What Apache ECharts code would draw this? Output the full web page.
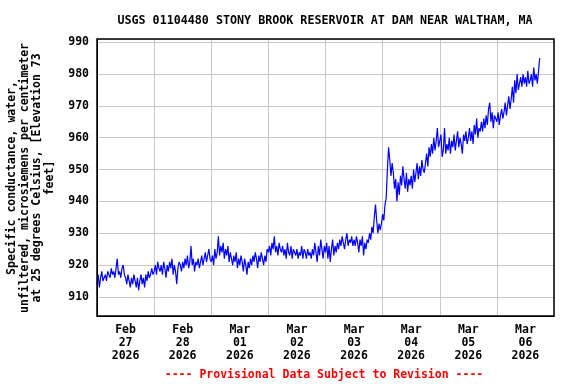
<!DOCTYPE html>
<html>
<head>
<meta charset="utf-8">
<script src="https://cdn.jsdelivr.net/npm/echarts@6/dist/echarts.min.js"></script>
<style>html,body{margin:0;padding:0;background:#fff}#c{width:576px;height:384px}</style>
</head>
<body>
<div id="c"></div>
<script>
// Day labels (category axis, one band per day)
var dayLabels = ['Feb\n27\n2026','Feb\n28\n2026','Mar\n01\n2026','Mar\n02\n2026','Mar\n03\n2026','Mar\n04\n2026','Mar\n05\n2026','Mar\n06\n2026'];
var yTicks = [910, 920, 930, 940, 950, 960, 970, 980, 990];
var stepsPerDay = 48; // 30-minute readings

// Specific conductance readings, 30-minute steps, per day (uS/cm)
var feb27 = [914,917,913,916,918,915,916,917,915,918,917,916,
             919,917,918,916,919,922,917,918,916,919,920,917,
             916,914,917,915,913,916,914,917,915,913,916,912,
             915,917,914,916,913,917,915,918,916,917,919,917];
var feb28 = [918,920,917,921,919,918,920,917,921,919,916,920,
             918,921,919,922,917,920,918,914,919,921,920,918,
             921,919,922,920,923,919,921,926,920,922,918,921,
             920,922,919,921,923,920,922,924,921,923,925,922];
var mar01 = [921,923,920,925,922,924,929,923,926,924,927,922,
             925,923,926,921,924,922,920,923,921,924,919,922,
             920,923,921,918,922,920,917,921,919,922,920,923,
             921,924,922,919,923,921,924,922,920,923,921,925];
var mar02 = [924,926,923,927,925,929,924,926,923,927,925,924,
             926,923,925,922,927,924,923,926,922,925,924,923,
             925,922,924,923,926,922,925,924,922,925,923,924,
             922,925,923,927,924,921,926,923,928,925,922,926];
var mar03 = [924,927,922,926,921,925,928,923,926,924,927,925,
             928,926,929,927,925,928,930,926,928,927,929,926,
             928,926,929,927,924,928,926,929,923,927,925,928,
             927,930,928,932,930,935,939,934,930,933,931,933];
var mar04 = [936,934,939,941,950,957,953,948,952,949,944,947,
             940,946,942,948,945,951,947,944,949,943,947,945,
             948,944,950,946,949,952,947,951,948,953,950,949,
             952,955,951,957,954,958,955,960,956,959,963,957];
var mar05 = [957,961,954,956,963,955,958,956,960,955,959,957,
             961,956,959,962,957,960,958,955,961,959,962,958,
             960,963,959,962,958,964,961,966,960,963,962,965,
             962,966,963,967,964,969,971,965,968,963,967,966];
var mar06 = [965,968,964,967,969,966,968,971,967,970,973,969,
             972,976,971,978,974,980,975,977,979,976,980,977,
             979,976,981,977,978,980,976,982,978,980,977,981,
             985];

var days = [feb27, feb28, mar01, mar02, mar03, mar04, mar05, mar06];
var seriesData = [];
days.forEach(function (arr, d) {
  arr.forEach(function (v, i) { seriesData.push([d + i / stepsPerDay, v]); });
});

var FONT = 'DejaVu Sans Mono';
var chart = echarts.init(document.getElementById('c'), null, {renderer: 'canvas'});
chart.setOption({
  animation: false,
  backgroundColor: '#fff',
  grid: {left: 97, right: 22, top: 39, bottom: 68, show: false, containLabel: false},
  xAxis: [
    {
      type: 'category', data: dayLabels, boundaryGap: true,
      axisLine: {lineStyle: {color: '#000', width: 1}},
      axisTick: {show: false},
      splitLine: {show: true, interval: 0, lineStyle: {color: '#c8c8c8', width: 1}},
      axisLabel: {interval: 0, margin: 8, color: '#000', fontFamily: FONT, fontWeight: 'bold', fontSize: 11.5, lineHeight: 13}
    },
    {type: 'value', min: 0, max: 8, show: false}
  ],
  yAxis: {
    type: 'value', min: 904, max: 991, minInterval: 10, maxInterval: 10,
    axisLine: {show: true, lineStyle: {color: '#000', width: 1}},
    axisTick: {show: false},
    splitLine: {show: true, lineStyle: {color: '#c8c8c8', width: 1}},
    axisLabel: {margin: 8, color: '#000', fontFamily: FONT, fontWeight: 'bold', fontSize: 11.5,
      customValues: yTicks}
  },
  series: [{
    type: 'line', xAxisIndex: 1, data: seriesData, showSymbol: false, symbol: 'none',
    lineStyle: {color: '#0000ff', width: 1.2}, itemStyle: {color: '#0000ff'}
  }],
  graphic: [
    {type: 'rect', z: 100, silent: true, shape: {x: 97, y: 39, width: 457, height: 277}, style: {fill: 'none', stroke: '#000', lineWidth: 1.5}},
    {type: 'text', x: 325, y: 21, style: {text: 'USGS 01104480 STONY BROOK RESERVOIR AT DAM NEAR WALTHAM, MA', font: 'bold 11.7px "DejaVu Sans Mono"', fill: '#000', align: 'center', verticalAlign: 'middle'}},
    {type: 'text', x: 31, y: 178, rotation: Math.PI / 2, style: {text: 'Specific conductance, water,\nunfiltered, microsiemens per centimeter\nat 25 degrees Celsius, [Elevation 73\nfeet]', font: 'bold 11.5px "DejaVu Sans Mono"', lineHeight: 12.8, fill: '#000', align: 'center', verticalAlign: 'middle'}},
    {type: 'text', x: 324, y: 375, style: {text: '---- Provisional Data Subject to Revision ----', font: 'bold 11.5px "DejaVu Sans Mono"', fill: '#ff0000', align: 'center', verticalAlign: 'middle'}}
  ]
});
</script>
</body>
</html>
